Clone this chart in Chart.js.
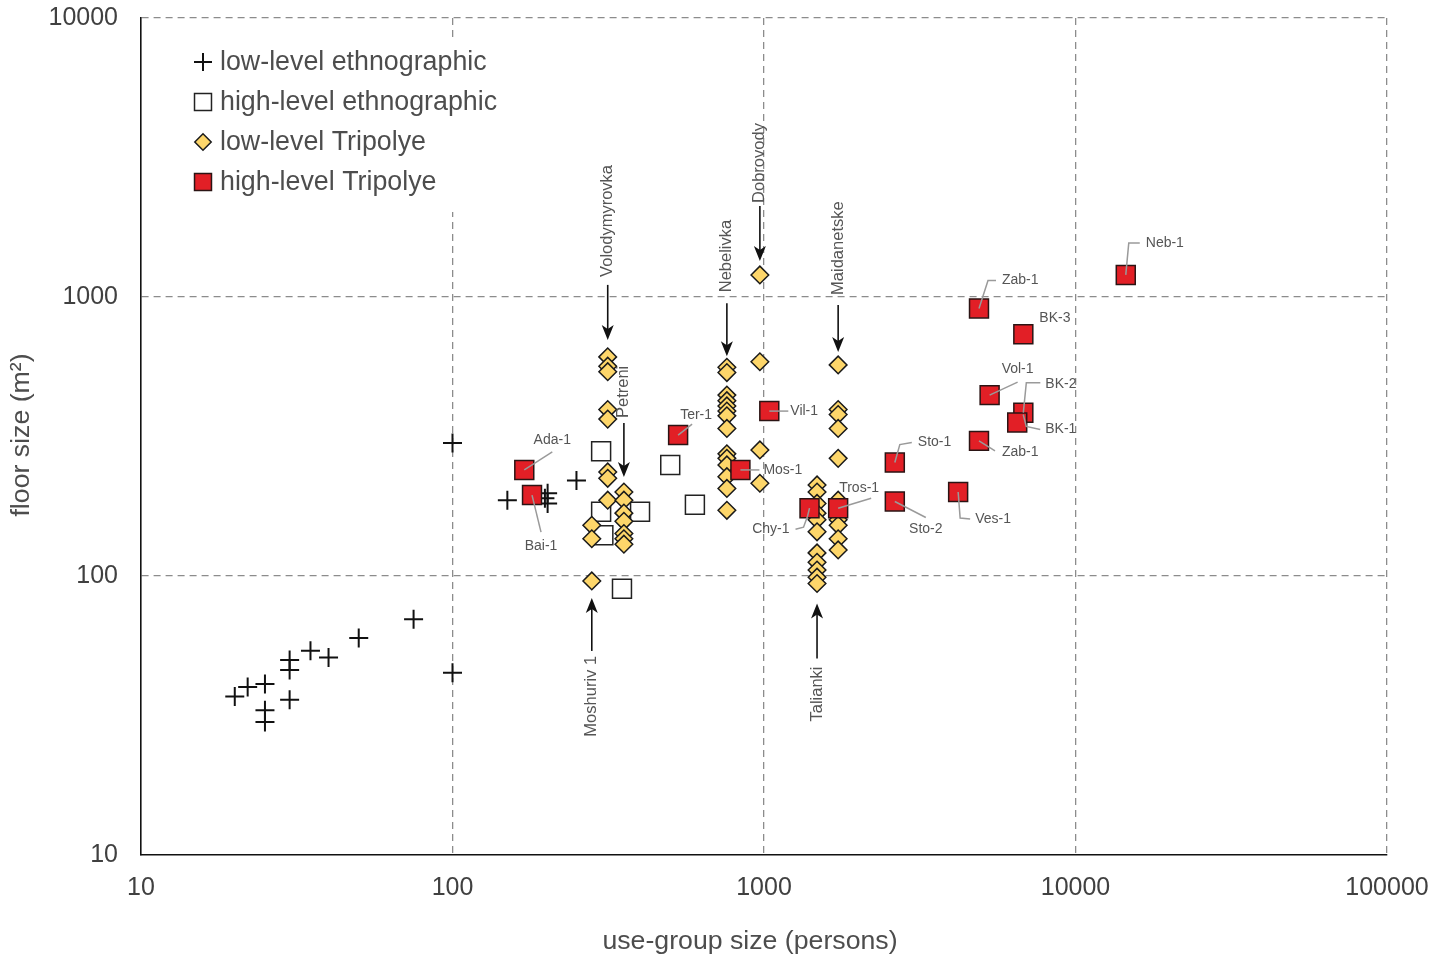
<!DOCTYPE html>
<html>
<head>
<meta charset="utf-8">
<title>Floor size vs use-group size</title>
<script src="https://cdn.jsdelivr.net/npm/chart.js@4.4.0/dist/chart.umd.min.js"></script>
<style>
    html, body { margin: 0; padding: 0; background: #fff; }
</style>
</head>
<body>
<canvas id="floorGraphe" width="1452" height="957"></canvas>
<script>
// Tick values on both log axes
const xTicks = [10, 100, 1000, 10000, 100000];
const yTicks = [10, 100, 1000, 10000];

// low-level ethnographic (crosses)
const lowEthnoX = [20, 22, 25, 25, 25, 30, 30, 30, 35, 40, 50, 75, 100, 100, 150, 198, 202, 202, 250];
const lowEthnoY = [37, 40, 41, 33, 30, 50, 46, 36, 54, 51, 60, 70, 45, 300, 187, 190, 198, 182, 220];

// high-level ethnographic (open squares)
const highEthnoX = [300, 300, 305, 400, 350, 500, 600];
const highEthnoY = [280, 170, 140, 170, 90, 250, 180];

// low-level Tripolye (diamonds), grouped by site
const lowTripX = [
    280, 280, 280,
    315, 315, 315, 315, 315, 315, 315, 315,
    355, 355, 355, 355, 355, 355, 355,
    760, 760, 760, 760, 760, 760, 760, 760, 760, 760, 760, 760, 760, 760,
    970, 970, 970, 970,
    1480, 1480, 1480, 1480, 1480, 1480, 1480, 1480, 1480, 1480, 1480,
    1730, 1730, 1730, 1730, 1730, 1730, 1730, 1730, 1730, 1730
];
const lowTripY = [
    152, 136, 96,
    610, 565, 540, 395, 365, 236, 224, 187,
    200, 187, 168, 157, 142, 136, 130,
    560, 536, 445, 425, 407, 390, 375, 338, 274, 264, 250, 227, 206, 172,
    1200, 586, 283, 215,
    212, 200, 182, 168, 159, 144, 121, 112, 105, 99, 94,
    571, 395, 379, 338, 264, 187, 159, 152, 136, 124
];

// high-level Tripolye (red squares)
const highTripNames = ["Ada-1", "Bai-1", "Ter-1", "Mos-1", "Vil-1", "Chy-1", "Tros-1", "Sto-1", "Sto-2",
    "Ves-1", "Zab-1", "BK-2", "BK-1", "Vol-1", "BK-3", "Zab-1", "Neb-1"];
const highTripX = [170, 180, 530, 840, 1040, 1400, 1730, 2630, 2630, 4200, 4900, 6800, 6500, 5300, 6800, 4900, 14500];
const highTripY = [240, 195, 320, 240, 390, 175, 175, 255, 185, 200, 305, 385, 355, 445, 735, 910, 1200];

const FONT = '"Liberation Sans", Arial, Helvetica, sans-serif';

// Label placement for the red squares (pixel offsets from the marker)
const pointNotes = [
    { i: 0, lead: [[0, 0], [28, -18]], at: [28, -30], align: "center" },
    { i: 1, lead: [[0, 0], [9, 37]], at: [9, 51], align: "center" },
    { i: 2, lead: [[0, 0], [14, -11]], at: [18, -20], align: "center" },
    { i: 3, lead: [[0, 0], [19, 0]], at: [23, 0], align: "left" },
    { i: 4, lead: [[0, 0], [19, 0]], at: [21, 0], align: "left" },
    { i: 5, lead: [[0, 0], [-2, 8], [-6, 19], [-14, 21]], at: [-20, 21], align: "right" },
    { i: 6, lead: [[0, 0], [33, -10]], at: [1, -20], align: "left" },
    { i: 7, lead: [[0, 0], [5, -18], [17, -20]], at: [23, -20], align: "left" },
    { i: 8, lead: [[0, 0], [31, 16]], at: [31, 28], align: "center" },
    { i: 9, lead: [[0, 0], [2, 26], [12, 27]], at: [17, 27], align: "left" },
    { i: 10, lead: [[0, 0], [16, 10]], at: [23, 11], align: "left" },
    { i: 11, lead: [[0, 0], [3, -30], [17, -30]], at: [22, -29], align: "left" },
    { i: 12, lead: [[6, -8], [9, 4], [23, 7]], at: [28, 7], align: "left" },
    { i: 13, lead: [[0, 0], [28, -13]], at: [28, -26], align: "center" },
    { i: 14, lead: null, at: [16, -16], align: "left" },
    { i: 15, lead: [[0, 0], [9, -28], [17, -28]], at: [23, -28], align: "left" },
    { i: 16, lead: [[0, 0], [3, -32], [14, -32]], at: [20, -32], align: "left" }
];

// Site arrows, anchored on one diamond of each site
const siteArrows = [
    { name: "Moshuriv 1", idx: 2, side: "below", tip: 17, tail: 70, label: 75 },
    { name: "Volodymyrovka", idx: 3, side: "above", tip: 17, tail: 72, label: 80 },
    { name: "Petreni", idx: 11, side: "above", tip: 15, tail: 69, label: 74 },
    { name: "Nebelivka", idx: 18, side: "above", tip: 11, tail: 64, label: 75 },
    { name: "Dobrovody", idx: 32, side: "above", tip: 14, tail: 69, label: 72 },
    { name: "Talianki", idx: 46, side: "below", tip: 20, tail: 75, label: 83 },
    { name: "Maidanetske", idx: 47, side: "above", tip: 13, tail: 60, label: 70 }
];

function toPoints(xs, ys) {
    return xs.map((x, k) => ({ x: x, y: ys[k] }));
}

const datasets = [
    { label: "low-level ethnographic", data: toPoints(lowEthnoX, lowEthnoY), pointStyle: "cross",
      pointRadius: 9.5, borderColor: "#111", backgroundColor: "#111", pointBorderWidth: 2, order: 3 },
    { label: "high-level ethnographic", data: toPoints(highEthnoX, highEthnoY), pointStyle: "rect",
      pointRadius: 13.4, borderColor: "#222", backgroundColor: "#fff", pointBorderWidth: 1.5, order: 2 },
    { label: "low-level Tripolye", data: toPoints(lowTripX, lowTripY), pointStyle: "rectRot",
      pointRadius: 8.8, borderColor: "#1a1a1a", backgroundColor: "#fdd66a", pointBorderWidth: 1.5, order: 1 },
    { label: "high-level Tripolye", data: toPoints(highTripX, highTripY), pointStyle: "rect",
      pointRadius: 13.4, borderColor: "#2b1414", backgroundColor: "#e21f26", pointBorderWidth: 1.5, order: 0 }
];

function drawMarker(ctx, ds, r, x, y) {
    ctx.save();
    ctx.fillStyle = ds.backgroundColor;
    ctx.strokeStyle = ds.borderColor;
    ctx.lineWidth = ds.pointBorderWidth;
    Chart.helpers.drawPoint(ctx, { pointStyle: ds.pointStyle, radius: r, rotation: 0, borderWidth: ds.pointBorderWidth }, x, y);
    ctx.restore();
}

const annotations = {
    id: "annotations",
    beforeDatasetsDraw(chart) {
        // blank area behind the legend
        const ctx = chart.ctx;
        ctx.save();
        ctx.fillStyle = "#fff";
        ctx.fillRect(150, 38, 370, 174);
        ctx.restore();
    },
    afterDatasetsDraw(chart) {
        const ctx = chart.ctx;
        const xs = chart.scales.x, ys = chart.scales.y;

        // labels of the red squares
        ctx.save();
        ctx.font = "14px " + FONT;
        ctx.textBaseline = "middle";
        pointNotes.forEach(n => {
            const px = xs.getPixelForValue(highTripX[n.i]);
            const py = ys.getPixelForValue(highTripY[n.i]);
            if (n.lead) {
                ctx.strokeStyle = "#9a9a9a";
                ctx.lineWidth = 1.5;
                ctx.beginPath();
                n.lead.forEach((p, k) => {
                    if (k === 0) ctx.moveTo(px + p[0], py + p[1]);
                    else ctx.lineTo(px + p[0], py + p[1]);
                });
                ctx.stroke();
            }
            ctx.fillStyle = "#555";
            ctx.textAlign = n.align;
            ctx.fillText(highTripNames[n.i], px + n.at[0], py + n.at[1]);
        });
        ctx.restore();

        // arrows and rotated site names
        siteArrows.forEach(a => {
            const x = xs.getPixelForValue(lowTripX[a.idx]);
            const y = ys.getPixelForValue(lowTripY[a.idx]);
            const s = a.side === "above" ? -1 : 1;
            const tipY = y + s * a.tip;
            const tailY = y + s * a.tail;
            ctx.save();
            ctx.strokeStyle = "#111";
            ctx.fillStyle = "#111";
            ctx.lineWidth = 1.6;
            ctx.beginPath();
            ctx.moveTo(x, tailY);
            ctx.lineTo(x, tipY + s * 10);
            ctx.stroke();
            ctx.beginPath();
            ctx.moveTo(x, tipY);
            ctx.lineTo(x - 6, tipY + s * 15);
            ctx.lineTo(x, tipY + s * 11);
            ctx.lineTo(x + 6, tipY + s * 15);
            ctx.closePath();
            ctx.fill();
            ctx.translate(x, y + s * a.label);
            ctx.rotate(-Math.PI / 2);
            ctx.font = "16.5px " + FONT;
            ctx.fillStyle = "#555";
            ctx.textBaseline = "middle";
            ctx.textAlign = a.side === "above" ? "left" : "right";
            ctx.fillText(a.name, 0, 0);
            ctx.restore();
        });
    },
    afterDraw(chart) {
        const ctx = chart.ctx;
        // legend
        const radii = [9, 12, 8.2, 12];
        ctx.save();
        ctx.font = "26.8px " + FONT;
        ctx.textBaseline = "middle";
        ctx.textAlign = "left";
        chart.data.datasets.forEach((ds, k) => {
            const y = 62 + k * 40;
            drawMarker(ctx, ds, radii[k], 203, y);
            ctx.fillStyle = "#4d4d4d";
            ctx.fillText(ds.label, 220, y + 1);
        });
        ctx.restore();

        // axis titles
        ctx.save();
        ctx.font = "26.7px " + FONT;
        ctx.fillStyle = "#4d4d4d";
        ctx.textAlign = "center";
        ctx.textBaseline = "middle";
        ctx.fillText("use-group size (persons)", 750, 942);
        ctx.translate(22, 435);
        ctx.rotate(-Math.PI / 2);
        ctx.fillText("floor size (m²)", 0, 0);
        ctx.restore();
    }
};

const gridColor = c => (c.tick && c.tick.value === 10) ? "rgba(0,0,0,0)" : "#8c8c8c";

const ctx = document.getElementById("floorGraphe").getContext("2d");
const chart = new Chart(ctx, {
    type: "scatter",
    data: { datasets: datasets },
    options: {
        responsive: false,
        animation: false,
        layout: { padding: { top: 18, right: 65, left: 0, bottom: 0 } },
        plugins: {
            legend: { display: false },
            tooltip: { enabled: false }
        },
        scales: {
            x: {
                type: "logarithmic",
                min: 10,
                max: 100000,
                afterBuildTicks: s => { s.ticks = xTicks.map(v => ({ value: v })); },
                afterFit: s => { s.height = 102; },
                ticks: {
                    callback: v => String(v),
                    font: { family: FONT, size: 25 },
                    color: "#404040",
                    padding: 18,
                    maxRotation: 0,
                    autoSkip: false
                },
                grid: { color: gridColor, lineWidth: 1.3, drawTicks: false },
                border: { display: true, color: "#111", width: 1.6, dash: [7, 5] }
            },
            y: {
                type: "logarithmic",
                min: 10,
                max: 10000,
                afterBuildTicks: s => { s.ticks = yTicks.map(v => ({ value: v })); },
                afterFit: s => { s.width = 141; },
                ticks: {
                    callback: v => String(v),
                    font: { family: FONT, size: 25 },
                    color: "#404040",
                    padding: 3,
                    autoSkip: false
                },
                grid: { color: gridColor, lineWidth: 1.3, drawTicks: true, tickLength: 20, tickColor: "rgba(0,0,0,0)" },
                border: { display: true, color: "#111", width: 1.6, dash: [7, 5] }
            }
        }
    },
    plugins: [annotations]
});
</script>
</body>
</html>
